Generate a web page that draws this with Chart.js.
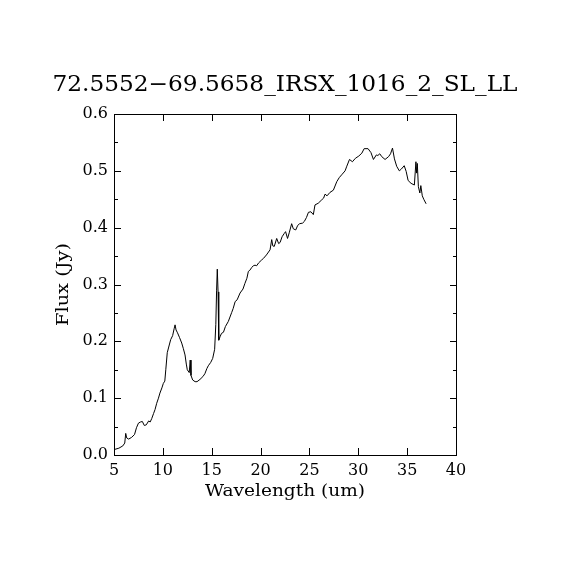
<!DOCTYPE html>
<html>
<head>
<meta charset="utf-8">
<script src="https://cdn.jsdelivr.net/npm/chart.js@4.4.0/dist/chart.umd.min.js"></script>
<style>
html,body{margin:0;padding:0;background:#fff;}
canvas{display:block;}
</style>
</head>
<body>
<canvas id="c" width="570" height="570"></canvas>
<script>
const chartTitle = "72.5552\u221269.5658_IRSX_1016_2_SL_LL";
const xLabel = "Wavelength (um)";
const yLabel = "Flux (Jy)";
const xTicks = [5, 10, 15, 20, 25, 30, 35, 40];
const yTicks = [0.0, 0.1, 0.2, 0.3, 0.4, 0.5, 0.6];

const wavelength = [
 5.1, 5.5, 5.9, 6.1, 6.2, 6.3, 6.5, 6.8, 7.1, 7.3, 7.5, 7.7, 7.9, 8.1, 8.3, 8.55, 8.7, 8.86, 9.05, 9.2,
 9.37, 9.55, 9.7, 9.9, 10.05, 10.2, 10.3, 10.45, 10.6, 10.8, 11.0, 11.15, 11.25, 11.35, 11.5, 11.7, 11.93, 12.1, 12.27, 12.4,
 12.5, 12.7, 12.8, 12.88, 13.05, 13.3, 13.5, 13.8, 14.1, 14.3, 14.5, 14.65, 14.9, 15.1, 15.3, 15.42, 15.5, 15.57, 15.65, 15.72,
 15.85, 16.0, 16.2, 16.4, 16.7, 17.05, 17.2, 17.4, 17.6, 17.9, 18.2, 18.4, 18.6, 18.75, 18.9, 19.1, 19.26, 19.43, 19.6, 19.8,
 20.1, 20.3, 20.6, 20.97, 21.14, 21.25, 21.4, 21.65, 21.85, 22.0, 22.2, 22.43, 22.56, 22.76, 22.95, 23.18, 23.35, 23.6, 23.8, 24.0,
 24.3, 24.48, 24.7, 24.9, 25.15, 25.4, 25.57, 25.9, 26.26, 26.45, 26.6, 26.8, 27.1, 27.45, 27.8, 28.05, 28.3, 28.65, 28.8, 29.1,
 29.4, 29.7, 30.05, 30.36, 30.6, 31.0, 31.3, 31.55, 31.85, 32.0, 32.2, 32.4, 32.74, 33.1, 33.3, 33.5, 33.7, 33.93, 34.2, 34.4,
 34.7, 34.9, 35.1, 35.4, 35.74, 35.9, 35.97, 36.04, 36.15, 36.3, 36.4, 36.55, 36.7, 36.94
];
const flux = [
 0.010, 0.012, 0.016, 0.021, 0.038, 0.030, 0.028, 0.031, 0.036, 0.048, 0.056, 0.058, 0.059, 0.052, 0.053, 0.060, 0.058, 0.064, 0.073, 0.080,
 0.091, 0.100, 0.109, 0.118, 0.126, 0.130, 0.150, 0.180, 0.190, 0.203, 0.210, 0.222, 0.229, 0.220, 0.215, 0.207, 0.197, 0.187, 0.176, 0.160,
 0.150, 0.145, 0.167, 0.140, 0.132, 0.129, 0.129, 0.133, 0.138, 0.143, 0.152, 0.157, 0.163, 0.170, 0.186, 0.230, 0.290, 0.327, 0.287, 0.202,
 0.208, 0.214, 0.216, 0.226, 0.235, 0.251, 0.258, 0.270, 0.273, 0.285, 0.292, 0.302, 0.311, 0.323, 0.325, 0.330, 0.333, 0.334, 0.333, 0.338,
 0.343, 0.346, 0.352, 0.361, 0.379, 0.368, 0.367, 0.381, 0.372, 0.374, 0.384, 0.390, 0.393, 0.381, 0.392, 0.407, 0.398, 0.396, 0.404, 0.407,
 0.408, 0.411, 0.418, 0.427, 0.428, 0.423, 0.440, 0.443, 0.449, 0.452, 0.459, 0.456, 0.462, 0.466, 0.481, 0.488, 0.493, 0.500, 0.507, 0.520,
 0.516, 0.522, 0.526, 0.531, 0.539, 0.539, 0.532, 0.520, 0.528, 0.527, 0.530, 0.525, 0.520, 0.525, 0.530, 0.540, 0.521, 0.508, 0.500, 0.503,
 0.509, 0.499, 0.483, 0.478, 0.475, 0.516, 0.496, 0.513, 0.472, 0.461, 0.474, 0.456, 0.450, 0.442
];

const FONT = "'DejaVu Serif', 'Liberation Serif', serif";

function stretchText(ctx, text, x, y, font, targetW, rotate) {
  ctx.save();
  ctx.font = font;
  ctx.fillStyle = '#000';
  ctx.textAlign = 'center';
  ctx.textBaseline = 'alphabetic';
  const w = ctx.measureText(text).width;
  const s = targetW / w;
  ctx.translate(x, y);
  if (rotate) ctx.rotate(-Math.PI / 2);
  ctx.scale(s, 1);
  ctx.fillText(text, 0, 0);
  ctx.restore();
}

const framePlugin = {
  id: 'frame',
  afterDraw(chart) {
    const ctx = chart.ctx;
    const a = chart.chartArea;
    const xs = chart.scales.x, ys = chart.scales.y;
    ctx.save();
    ctx.strokeStyle = '#000';
    ctx.lineWidth = 1;
    ctx.strokeRect(a.left + 0.5, a.top + 0.5, a.right - a.left, a.bottom - a.top);
    ctx.beginPath();
    xTicks.forEach(v => {
      const px = Math.round(xs.getPixelForValue(v)) + 0.5;
      ctx.moveTo(px, a.bottom); ctx.lineTo(px, a.bottom - 7);
      ctx.moveTo(px, a.top); ctx.lineTo(px, a.top + 7);
    });
    for (let i = 0; i <= 12; i++) {
      const v = i * 0.05;
      const len = (i % 2 === 0) ? 7 : 4;
      const py = Math.round(ys.getPixelForValue(v)) + 0.5;
      ctx.moveTo(a.left, py); ctx.lineTo(a.left + len, py);
      ctx.moveTo(a.right + 1, py); ctx.lineTo(a.right + 1 - len, py);
    }
    ctx.stroke();
    ctx.restore();
    const cx = (a.left + a.right) / 2, cy = (a.top + a.bottom) / 2;
    stretchText(ctx, chartTitle, cx, 91, "22px " + FONT, 465, false);
    stretchText(ctx, xLabel, cx, 496, "16px " + FONT, 160, false);
    stretchText(ctx, yLabel, 68, cy, "16px " + FONT, 83, true);
  }
};

new Chart(document.getElementById('c'), {
  type: 'scatter',
  data: {
    datasets: [{
      data: wavelength.map((w, i) => ({x: w, y: flux[i]})),
      showLine: true,
      borderColor: '#000',
      borderWidth: 1,
      pointRadius: 0,
      tension: 0,
      fill: false
    }]
  },
  options: {
    responsive: false,
    devicePixelRatio: 1,
    animation: false,
    layout: { padding: { left: 0, top: 114, right: 114, bottom: 0 } },
    plugins: { legend: { display: false }, tooltip: { enabled: false }, title: { display: false } },
    scales: {
      x: {
        type: 'linear', min: 5, max: 40,
        afterBuildTicks: s => { s.ticks = xTicks.map(v => ({value: v})); },
        afterFit: s => { s.height = 115; },
        grid: { display: false, drawTicks: false },
        border: { display: false },
        ticks: { color: '#000', padding: 6, font: { family: FONT, size: 16 }, maxRotation: 0, autoSkip: false,
                 callback: v => String(v) }
      },
      y: {
        type: 'linear', min: 0, max: 0.6,
        afterBuildTicks: s => { s.ticks = yTicks.map(v => ({value: v})); },
        afterFit: s => { s.width = 114; },
        grid: { display: false, drawTicks: false },
        border: { display: false },
        ticks: { color: '#000', padding: 6, font: { family: FONT, size: 16 }, autoSkip: false,
                 callback: v => Number(v).toFixed(1) }
      }
    }
  },
  plugins: [framePlugin]
});
</script>
</body>
</html>
